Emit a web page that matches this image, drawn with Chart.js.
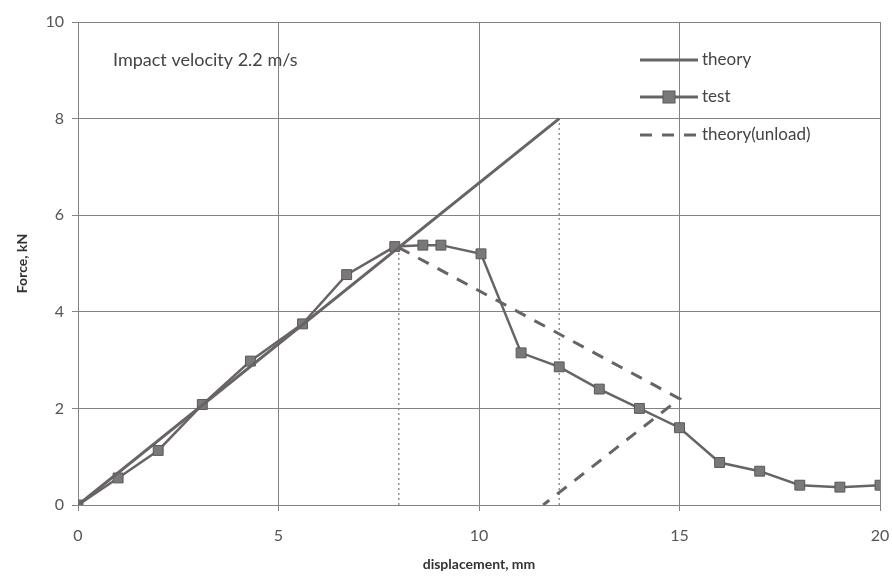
<!DOCTYPE html>
<html>
<head>
<meta charset="utf-8">
<script src="https://cdn.jsdelivr.net/npm/chart.js@4.4.1/dist/chart.umd.min.js"></script>
<style>
  html, body { margin: 0; padding: 0; background: #fff; }
  #wrap { width: 892px; height: 581px; position: relative; }
</style>
</head>
<body>
<div id="wrap"><canvas id="c"></canvas></div>
<script>
// displacement (mm) / force (kN)
const theoryX = [0, 12];
const theoryY = [0, 8];
const testX = [0, 1.0, 2.0, 3.1, 4.3, 5.6, 6.7, 7.9, 8.6, 9.05, 10.05, 11.05, 12.0, 13.0, 14.0, 15.0, 16.0, 17.0, 18.0, 19.0, 20.0];
const testY = [0, 0.56, 1.13, 2.08, 2.98, 3.75, 4.77, 5.35, 5.38, 5.38, 5.2, 3.15, 2.86, 2.4, 2.0, 1.6, 0.88, 0.7, 0.41, 0.37, 0.41];
const unloadX = [8, 15, 11.6];
const unloadY = [5.33, 2.2, 0];
const guide1X = [8, 8];
const guide1Y = [0, 5.33];
const guide2X = [12, 12];
const guide2Y = [0, 8];
const xTicks = [0, 5, 10, 15, 20];
const yTicks = [0, 2, 4, 6, 8, 10];
const legendLabels = ["theory", "test", "theory(unload)"];

const FONT = "Lato, 'Open Sans', sans-serif";
const LINE = "#686464";
const MARK = "#7a7878";
const GRIDC = "#828282";

const pts = (xs, ys) => xs.map((x, i) => ({ x, y: ys[i] }));

const legendPlugin = {
  id: "sideLegend",
  afterDraw(chart) {
    const ctx = chart.ctx;
    ctx.save();
    ctx.textBaseline = "middle";
    const x0 = 640, x1 = 698, rows = [60, 97, 135];
    ctx.strokeStyle = LINE; ctx.lineWidth = 3; ctx.setLineDash([]);
    ctx.beginPath(); ctx.moveTo(x0, rows[0]); ctx.lineTo(x1, rows[0]); ctx.stroke();
    ctx.beginPath(); ctx.moveTo(x0, rows[1]); ctx.lineTo(x1, rows[1]); ctx.stroke();
    ctx.fillStyle = MARK; ctx.strokeStyle = "#5a5858"; ctx.lineWidth = 1;
    ctx.fillRect(663, rows[1] - 6, 12, 12); ctx.strokeRect(663, rows[1] - 6, 12, 12);
    ctx.strokeStyle = LINE; ctx.lineWidth = 3; ctx.setLineDash([12, 10]);
    ctx.beginPath(); ctx.moveTo(x0, rows[2]); ctx.lineTo(x1, rows[2]); ctx.stroke();
    ctx.setLineDash([]);
    ctx.font = "17px " + FONT;
    ctx.fillStyle = "#444";
    legendLabels.forEach((t, i) => ctx.fillText(t, 702, rows[i]));
    ctx.font = "18px " + FONT;
    ctx.fillText("Impact velocity 2.2 m/s", 113, 60);
    ctx.restore();
  }
};

new Chart(document.getElementById("c"), {
  type: "scatter",
  data: {
    datasets: [
      { label: "theory", data: pts(theoryX, theoryY), showLine: true, borderColor: LINE, borderWidth: 3, pointRadius: 0 },
      { label: "test", data: pts(testX, testY), showLine: true, borderColor: LINE, borderWidth: 2.5, pointStyle: "rect", pointRadius: 7, pointBackgroundColor: MARK, pointBorderColor: "#5a5858", pointBorderWidth: 1 },
      { label: "theory(unload)", data: pts(unloadX, unloadY), showLine: true, borderColor: LINE, borderWidth: 3, borderDash: [12, 10], pointRadius: 0 },
      { label: "g1", data: pts(guide1X, guide1Y), showLine: true, borderColor: "#777", borderWidth: 1.2, borderDash: [2, 3], pointRadius: 0 },
      { label: "g2", data: pts(guide2X, guide2Y), showLine: true, borderColor: "#777", borderWidth: 1.2, borderDash: [2, 3], pointRadius: 0 }
    ]
  },
  options: {
    responsive: true,
    maintainAspectRatio: false,
    animation: false,
    layout: { padding: { top: 22, right: 12, left: 0, bottom: 0 } },
    plugins: { legend: { display: false }, tooltip: { enabled: false } },
    scales: {
      x: {
        type: "linear", min: 0, max: 20,
        afterBuildTicks: (s) => { s.ticks = xTicks.map((v) => ({ value: v })); },
        afterFit: (s) => { s.height = 76; s.paddingLeft = 0; s.paddingRight = 0; },
        grid: { color: GRIDC, lineWidth: 1, tickLength: 6, tickColor: GRIDC },
        border: { color: GRIDC },
        ticks: { color: "#555", font: { family: FONT, size: 16 }, padding: 15 },
        title: { display: true, text: "displacement, mm", color: "#333", font: { family: FONT, size: 14, weight: "bold" }, padding: { top: 6, bottom: 8 } }
      },
      y: {
        type: "linear", min: 0, max: 10,
        afterBuildTicks: (s) => { s.ticks = yTicks.map((v) => ({ value: v })); },
        afterFit: (s) => { s.width = 78; s.paddingTop = 0; s.paddingBottom = 0; },
        grid: { color: GRIDC, lineWidth: 1, tickLength: 6, tickColor: GRIDC },
        border: { color: GRIDC },
        ticks: { color: "#555", font: { family: FONT, size: 16 }, padding: 8 },
        title: { display: true, text: "Force, kN", color: "#333", font: { family: FONT, size: 14, weight: "bold" }, padding: { top: 14, bottom: 4 } }
      }
    }
  },
  plugins: [legendPlugin]
});
</script>
</body>
</html>
